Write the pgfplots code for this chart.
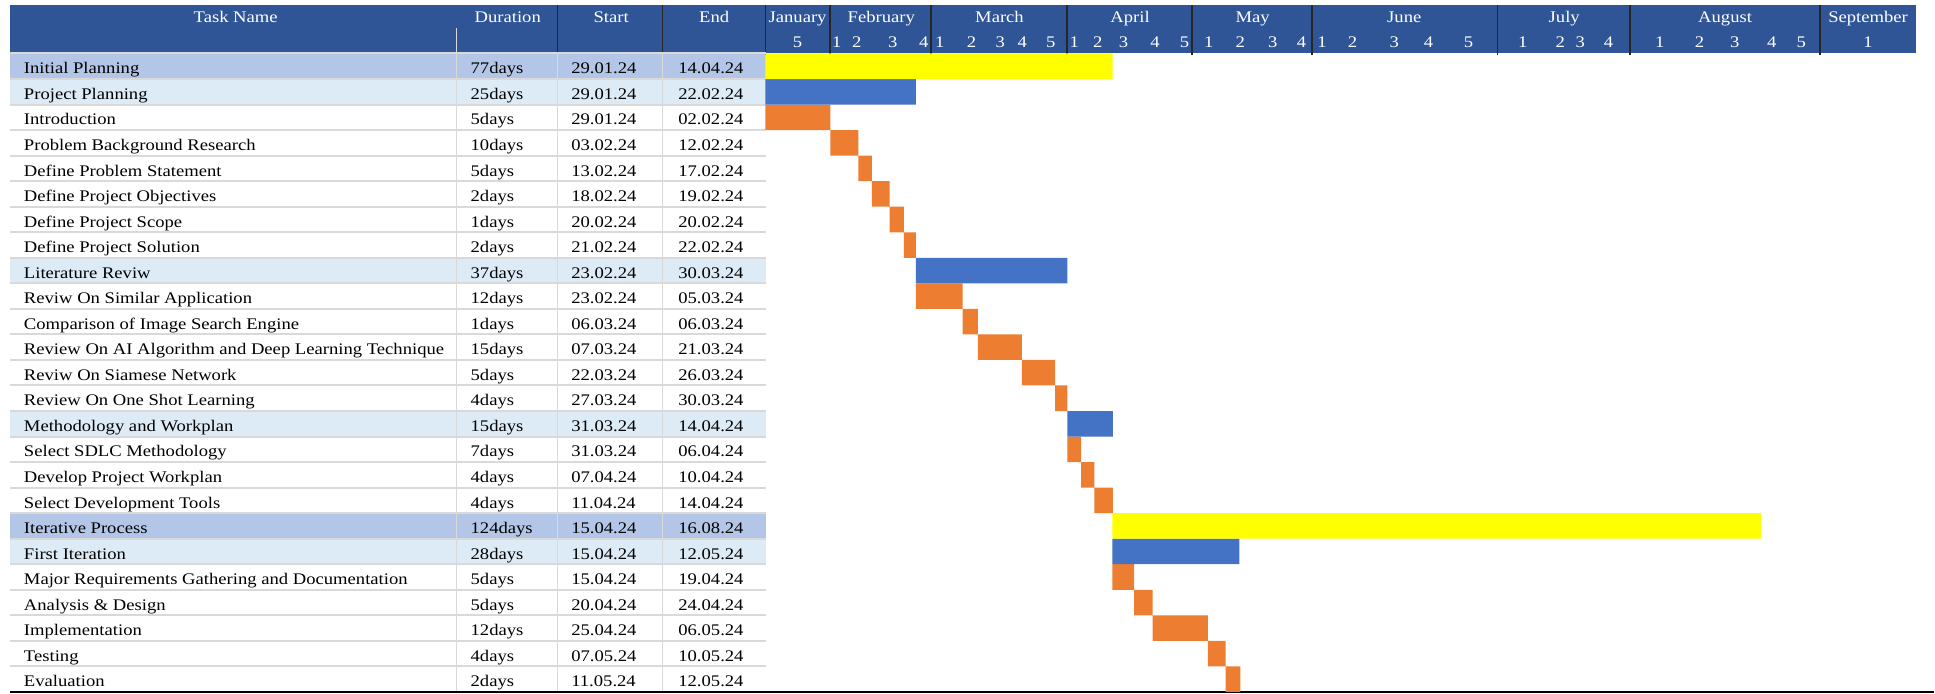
\documentclass[border=0pt]{standalone}
\usepackage{pgfplots}
\pgfplotsset{compat=1.18}
\usepackage{pgfplotstable}
\usepackage{fontspec}
\setmainfont{Liberation Serif}[FakeStretch=1.15]
\definecolor{hdr}{RGB}{47,85,151}
\definecolor{lvlone}{RGB}{180,198,231}
\definecolor{lvltwo}{RGB}{221,235,247}
\definecolor{sepc}{RGB}{217,217,217}
\definecolor{gyellow}{RGB}{255,255,0}
\definecolor{gblue}{RGB}{68,114,196}
\definecolor{gorange}{RGB}{237,125,49}
\newcommand\tf{\fontsize{8.1}{9.7}\selectfont}

\pgfplotstableread[col sep=comma]{
row,name,dur,st,fin
0,Initial Planning,77days,29.01.24,14.04.24
1,Project Planning,25days,29.01.24,22.02.24
2,Introduction,5days,29.01.24,02.02.24
3,Problem Background Research,10days,03.02.24,12.02.24
4,Define Problem Statement,5days,13.02.24,17.02.24
5,Define Project Objectives,2days,18.02.24,19.02.24
6,Define Project Scope,1days,20.02.24,20.02.24
7,Define Project Solution,2days,21.02.24,22.02.24
8,Literature Reviw,37days,23.02.24,30.03.24
9,Reviw On Similar Application,12days,23.02.24,05.03.24
10,Comparison of Image Search Engine,1days,06.03.24,06.03.24
11,Review On AI Algorithm and Deep Learning Technique,15days,07.03.24,21.03.24
12,Reviw On Siamese Network,5days,22.03.24,26.03.24
13,Review On One Shot Learning,4days,27.03.24,30.03.24
14,Methodology and Workplan,15days,31.03.24,14.04.24
15,Select SDLC Methodology,7days,31.03.24,06.04.24
16,Develop Project Workplan,4days,07.04.24,10.04.24
17,Select Development Tools,4days,11.04.24,14.04.24
18,Iterative Process,124days,15.04.24,16.08.24
19,First Iteration,28days,15.04.24,12.05.24
20,Major Requirements Gathering and Documentation,5days,15.04.24,19.04.24
21,Analysis \& Design,5days,20.04.24,24.04.24
22,Implementation,12days,25.04.24,06.05.24
23,Testing,4days,07.05.24,10.05.24
24,Evaluation,2days,11.05.24,12.05.24
}\tasks

\pgfplotstableread{
row  x0      x1      type
0    765.7   1113.3  0
1    765.7   916.3   1
2    765.7   830.7   2
3    830.7   858.7   2
4    858.7   872.3   2
5    872.3   890.0   2
6    890.0   904.3   2
7    904.3   916.3   2
8    916.3   1068.0  1
9    916.3   963.0   2
10   963.0   978.3   2
11   978.3   1022.3  2
12   1022.3  1055.7  2
13   1055.7  1068.0  2
14   1068.0  1113.5  1
15   1068.0  1081.7  2
16   1081.7  1095.0  2
17   1095.0  1113.5  2
18   1113.0  1762.0  0
19   1113.0  1240.0  1
20   1113.0  1134.6  2
21   1134.6  1153.2  2
22   1153.2  1208.6  2
23   1208.6  1226.2  2
24   1226.2  1241.0  2
}\bars

\pgfplotstableread{
x lab
798 January
881.7 February
1000 March
1130.7 April
1253.3 May
1405 June
1565 July
1726 August
1869 September
}\months

\pgfplotstableread{
x lab
798 5
837.3 1
857.3 2
893.3 3
924.3 4
940.3 1
972 2
1000.7 3
1022.7 4
1051.3 5
1074.7 1
1098.3 2
1124 3
1155.5 4
1185 5
1209.3 1
1241 2
1273.3 3
1302.3 4
1322.7 1
1353.3 2
1395 3
1429.3 4
1469.3 5
1523.5 1
1561 2
1581 3
1609.3 4
1660.7 1
1700.3 2
1735.7 3
1772.7 4
1802.3 5
1869 1
}\weeks

\pgfplotsset{base/.style={width=967.5pt,height=347pt,scale only axis,
  xmin=0,xmax=1935,ymin=-2.595,ymax=24.568,y dir=reverse,hide axis,clip=false},
  txt/.style={only marks, mark=none, nodes near coords, point meta=explicit symbolic}}

\begin{document}
\begin{tikzpicture}
\begin{axis}[base]
\path (axis cs:0,-2.595) rectangle (axis cs:1935,24.568);
% row fills
\fill[lvlone] (axis cs:10,-0.5) rectangle (axis cs:766,0.5);
\fill[lvlone] (axis cs:10,17.5) rectangle (axis cs:766,18.5);
\fill[lvltwo] (axis cs:10,0.5) rectangle (axis cs:766,1.5);
\fill[lvltwo] (axis cs:10,7.5) rectangle (axis cs:766,8.5);
\fill[lvltwo] (axis cs:10,13.5) rectangle (axis cs:766,14.5);
\fill[lvltwo] (axis cs:10,18.5) rectangle (axis cs:766,19.5);
% header
\fill[hdr] (axis cs:10,-2.399) rectangle (axis cs:1917,-0.5);
\draw[sepc, line width=0.7pt] (axis cs:457,-1.487) -- (axis cs:457,-0.5);
\pgfplotsinvokeforeach{557.5,663,766,830.3,931.3,1067.7,1192.7,1312.7,1498.3,1630.7,1821}{
  \draw[black!85, line width=0.7pt] (axis cs:#1,-2.399) -- (axis cs:#1,-0.45);
}
% row separators
\pgfplotsinvokeforeach{-0.5,0.5,...,23.5}{
  \draw[sepc, line width=1pt] (axis cs:10,#1) -- (axis cs:766,#1);
}
\pgfplotsinvokeforeach{457,557.5,663}{
  \draw[sepc, line width=0.6pt] (axis cs:#1,-0.5) -- (axis cs:#1,24.5);
}
\draw[black, line width=1pt] (axis cs:10,24.52) -- (axis cs:1935,24.52);
% header labels
\node[font=\tf, text=white, anchor=base, inner sep=0pt] at (axis cs:235.8,-1.706) {Task Name};
\node[font=\tf, text=white, anchor=base, inner sep=0pt] at (axis cs:508,-1.706) {Duration};
\node[font=\tf, text=white, anchor=base, inner sep=0pt] at (axis cs:611.5,-1.706) {Start};
\node[font=\tf, text=white, anchor=base, inner sep=0pt] at (axis cs:714.6,-1.706) {End};
\addplot[txt, every node near coord/.style={anchor=base, inner sep=0pt, font=\tf, text=white}]
  table[x=x, y expr=-1.706, meta=lab] {\months};
\addplot[txt, every node near coord/.style={anchor=base, inner sep=0pt, font=\tf, text=white}]
  table[x=x, y expr=-0.728, meta=lab] {\weeks};
% table text
\addplot[txt, every node near coord/.style={anchor=base west, inner sep=0pt, font=\tf, text=black}]
  table[x expr=23.6, y expr=\thisrow{row}+0.30, meta=name] {\tasks};
\addplot[txt, every node near coord/.style={anchor=base west, inner sep=0pt, font=\tf, text=black}]
  table[x expr=470.5, y expr=\thisrow{row}+0.30, meta=dur] {\tasks};
\addplot[txt, every node near coord/.style={anchor=base west, inner sep=0pt, font=\tf, text=black}]
  table[x expr=571.2, y expr=\thisrow{row}+0.30, meta=st] {\tasks};
\addplot[txt, every node near coord/.style={anchor=base west, inner sep=0pt, font=\tf, text=black}]
  table[x expr=678.3, y expr=\thisrow{row}+0.30, meta=fin] {\tasks};
\end{axis}

\begin{axis}[base, xbar stacked, bar width=1]
\addplot[draw=none, fill=none] table[x=x0, y=row] {\bars};
\addplot[draw=none, fill=gyellow] table[x expr={ifthenelse(\thisrow{type}==0,\thisrow{x1}-\thisrow{x0},0)}, y=row] {\bars};
\addplot[draw=none, fill=gblue] table[x expr={ifthenelse(\thisrow{type}==1,\thisrow{x1}-\thisrow{x0},0)}, y=row] {\bars};
\addplot[draw=none, fill=gorange] table[x expr={ifthenelse(\thisrow{type}==2,\thisrow{x1}-\thisrow{x0},0)}, y=row] {\bars};
\end{axis}
\end{tikzpicture}
\end{document}
